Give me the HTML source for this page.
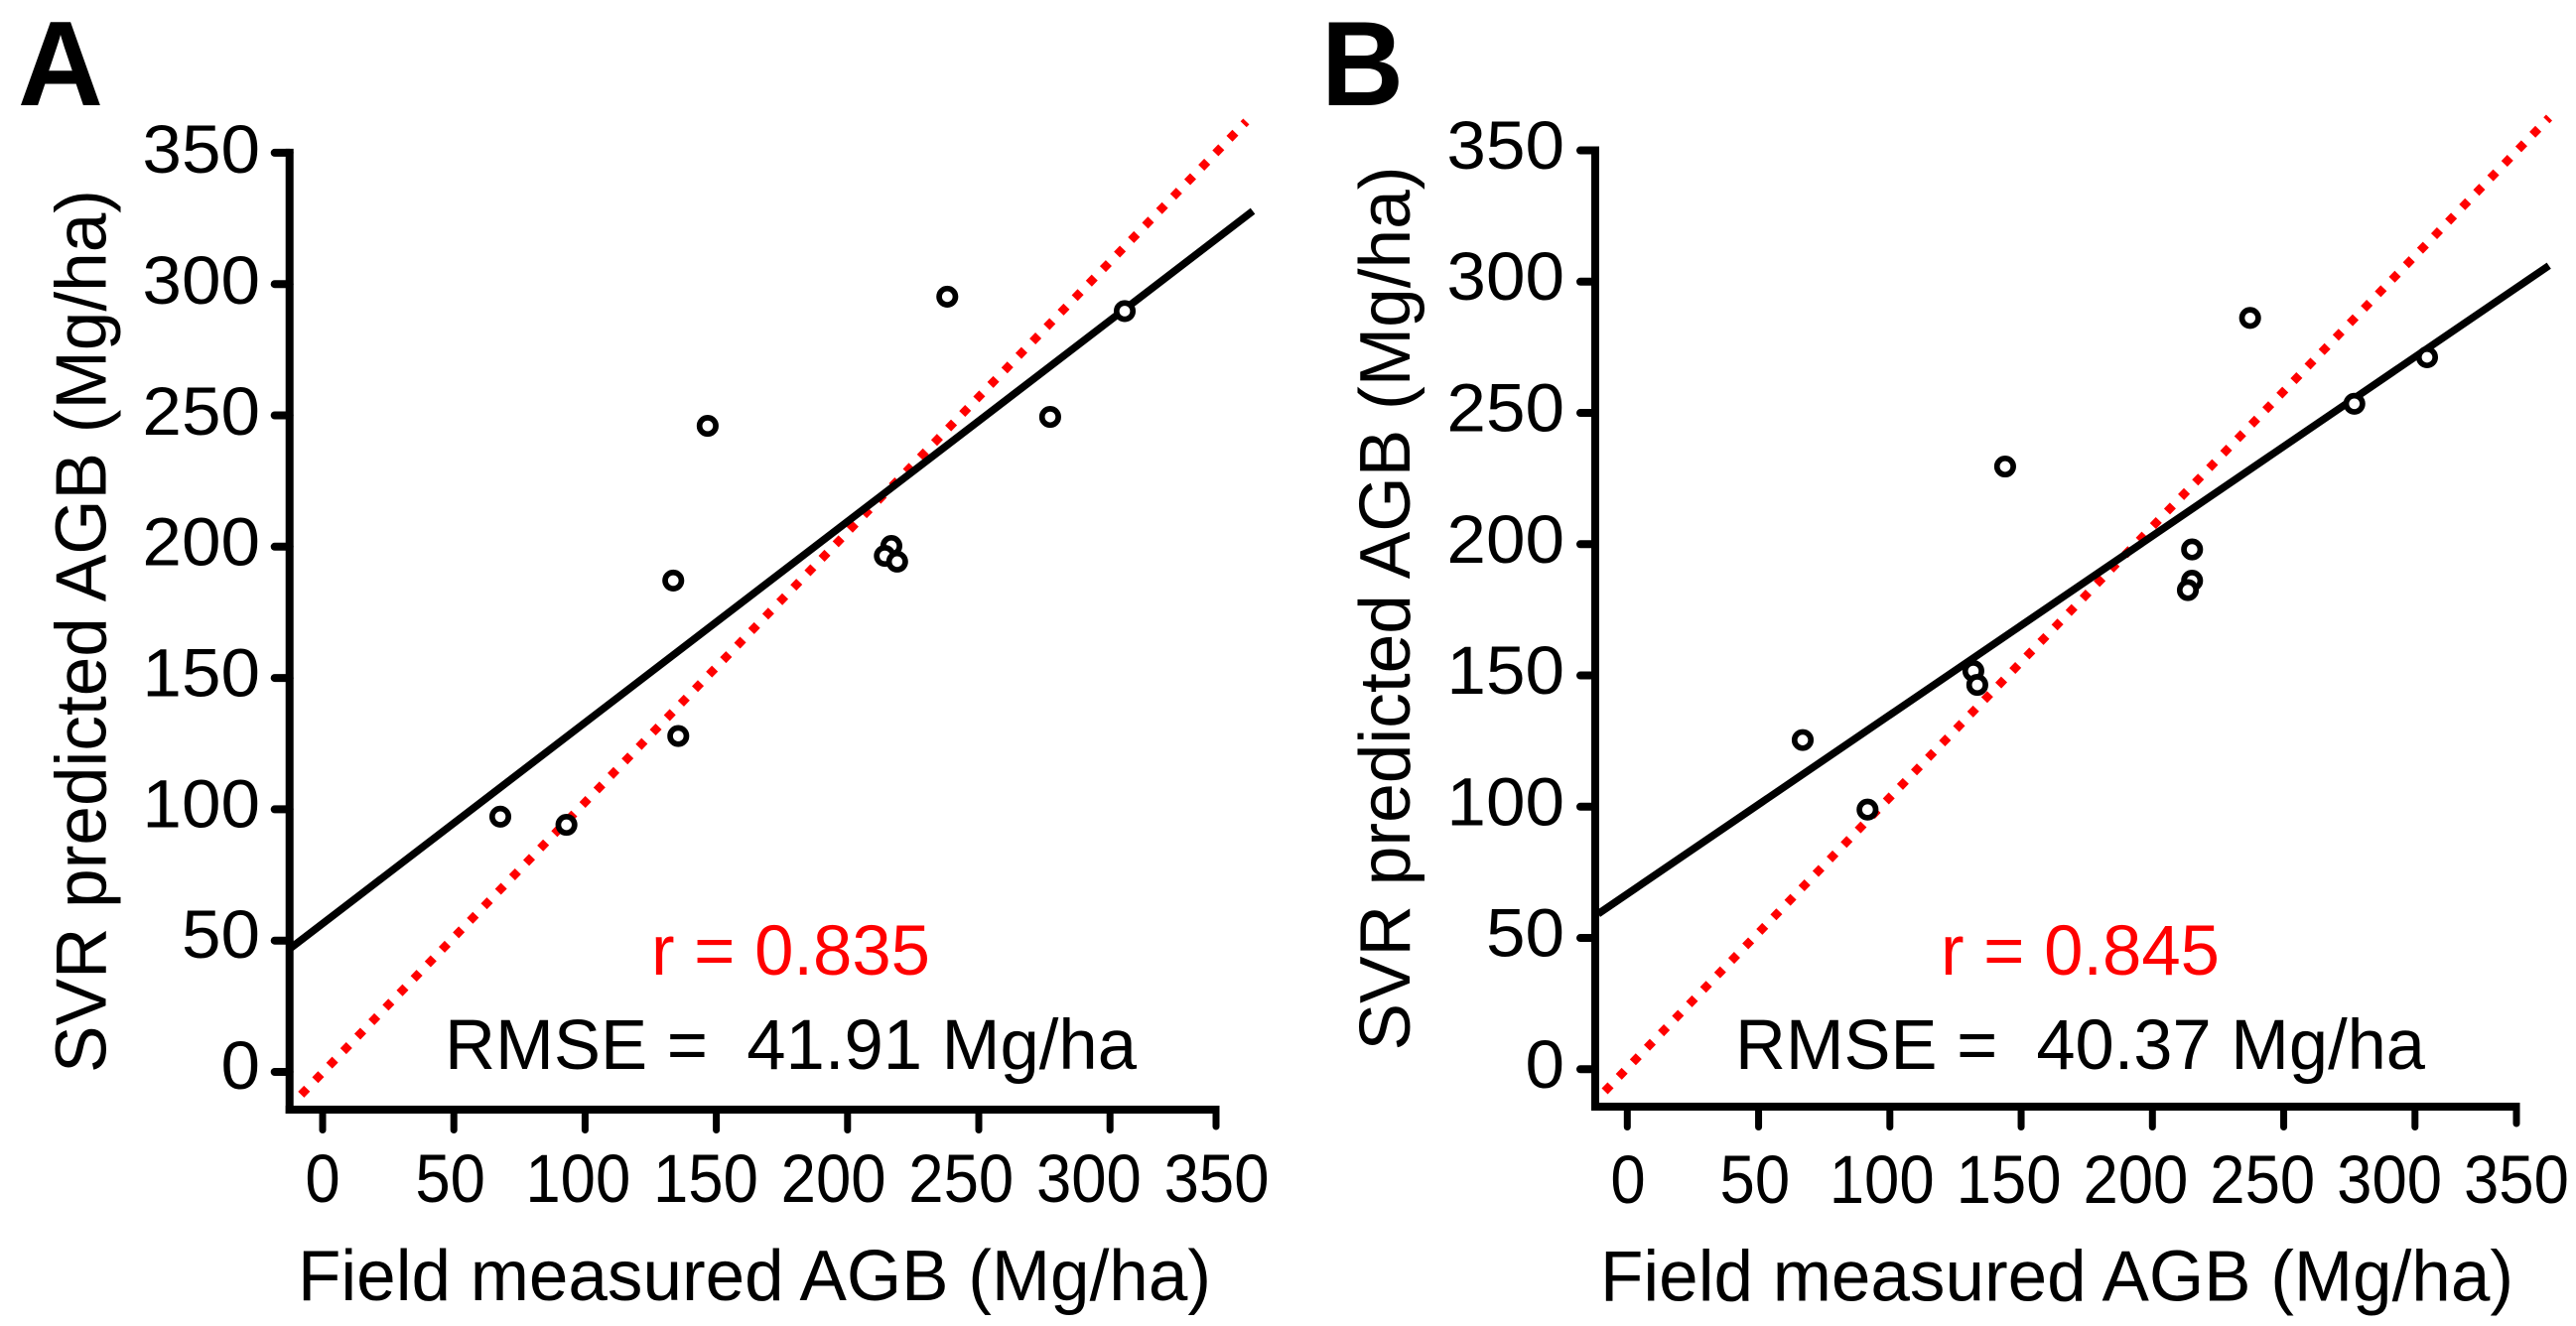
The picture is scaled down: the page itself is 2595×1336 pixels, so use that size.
<!DOCTYPE html>
<html lang="en">
<head>
<meta charset="utf-8">
<title>SVR predicted vs field measured AGB</title>
<style>
html,body{margin:0;padding:0;background:#fff;width:2595px;height:1336px;overflow:hidden}
svg{display:block}
text{font-family:"Liberation Sans",Arial,sans-serif;fill:#000;white-space:pre}
</style>
</head>
<body>
<svg id="figure" xmlns="http://www.w3.org/2000/svg" width="2595" height="1336" viewBox="0 0 2595 1336">
  <rect width="2595" height="1336" fill="#fff"/>

  <g id="panelA">
    <text x="18" y="106" font-size="122" font-weight="700" textLength="86" lengthAdjust="spacingAndGlyphs">A</text>
    <text transform="translate(106.5,1081) rotate(-90)" font-size="72" textLength="890" lengthAdjust="spacingAndGlyphs">SVR predicted AGB (Mg/ha)</text>
    <text x="300" y="1310" font-size="72" textLength="920" lengthAdjust="spacingAndGlyphs">Field measured AGB (Mg/ha)</text>
    <text x="656" y="982" font-size="71" style="fill:#ff0000" textLength="281" lengthAdjust="spacingAndGlyphs">r = 0.835</text>
    <text x="448" y="1077" font-size="71" textLength="697" lengthAdjust="spacingAndGlyphs">RMSE =  41.91 Mg/ha</text>
  </g>

  <g id="panelB">
    <text x="1331" y="106" font-size="122" font-weight="700" textLength="83" lengthAdjust="spacingAndGlyphs">B</text>
    <text transform="translate(1420,1058.5) rotate(-90)" font-size="72" textLength="891" lengthAdjust="spacingAndGlyphs">SVR predicted AGB (Mg/ha)</text>
    <text x="1612" y="1310.5" font-size="72" textLength="920" lengthAdjust="spacingAndGlyphs">Field measured AGB (Mg/ha)</text>
    <text x="1955" y="982" font-size="71" style="fill:#ff0000" textLength="281" lengthAdjust="spacingAndGlyphs">r = 0.845</text>
    <text x="1748" y="1077" font-size="71" textLength="695" lengthAdjust="spacingAndGlyphs">RMSE =  40.37 Mg/ha</text>
  </g>
</svg>

<script>
// Shared axis values
const xTicks = [0, 50, 100, 150, 200, 250, 300];
const yTicks = [0, 50, 100, 150, 200, 250, 300, 350];
const tickLabels = [0, 50, 100, 150, 200, 250, 300, 350];

// Panel A data
const aMeasured = [238.0, 305.6, 277.2, 146.7, 216.7, 214.2, 218.9, 133.6, 135.5, 67.7, 92.9];
const aPredicted = [295.2, 289.7, 249.4, 246.0, 200.3, 196.5, 194.3, 187.1, 127.9, 97.2, 94.1];
const aFitX = [-12.5, 354.4];
const aFitY = [46.9, 327.8];
const aRefX = [-8.2, 351.9];
const aRefY = [-8.65, 361.9];

// Panel B data
const bMeasured = [237.2, 304.6, 276.9, 143.9, 215.1, 215.1, 213.5, 131.8, 133.3, 66.8, 91.5];
const bPredicted = [286.2, 271.2, 253.5, 229.6, 198.0, 186.1, 182.5, 151.7, 146.4, 125.4, 98.9];
const bFitX = [-11.1, 351.0];
const bFitY = [59.2, 306.1];
const bRefX = [-8.6, 351.1];
const bRefY = [-8.4, 362.5];

const NS = 'http://www.w3.org/2000/svg';

function mk(parent, tag, attrs) {
  const el = document.createElementNS(NS, tag);
  for (const k in attrs) el.setAttribute(k, attrs[k]);
  parent.appendChild(el);
  return el;
}

function drawPanel(group, geo, measured, predicted, fitX, fitY, refX, refY) {
  const sx = v => geo.x0 + v * geo.xk;
  const sy = v => geo.y0 - v * geo.yk;
  const labelX = v => geo.lx0 + v * geo.lxk;
  const labelY = v => geo.ly0 - v * geo.lyk;

  yTicks.forEach(v => {
    const t = mk(group, 'line', {x1: geo.axisX - 15, x2: geo.axisX, y1: sy(v), y2: sy(v), stroke: '#000', 'stroke-width': 8, 'stroke-linecap': 'round'});
    
    
  });

  xTicks.forEach(v => {
    const t = mk(group, 'line', {x1: sx(v), x2: sx(v), y1: geo.axisY, y2: geo.axisY + 20.5, stroke: '#000', 'stroke-width': 7, 'stroke-linecap': 'round'});
    
    
  });

  const endTick = mk(group, 'line', {x1: geo.axisEnd, x2: geo.axisEnd, y1: geo.axisY, y2: geo.axisY + 17, stroke: '#000', 'stroke-width': 7, 'stroke-linecap': 'round'});
  
  

  const yAxis = mk(group, 'line', {x1: geo.axisX, x2: geo.axisX, y1: sy(350) - 4, y2: geo.axisY + 4, stroke: '#000', 'stroke-width': 8});
  
  

  const xAxis = mk(group, 'line', {x1: geo.axisX - 4, x2: geo.axisEnd + 3.5, y1: geo.axisY, y2: geo.axisY, stroke: '#000', 'stroke-width': 8});
  
  

  tickLabels.forEach(v => {
    const t = mk(group, 'text', {transform: 'translate(' + geo.yLabelRight + ',' + labelY(v) + ') scale(1.03,1)', 'font-size': 69, 'text-anchor': 'end'});
    t.textContent = String(v);
    
    
  });

  tickLabels.forEach(v => {
    const t = mk(group, 'text', {transform: 'translate(' + labelX(v) + ',' + geo.xLabelBase + ') scale(0.92,1)', 'font-size': 69, 'text-anchor': 'middle'});
    t.textContent = String(v);
    
    
  });

  const ref = mk(group, 'line', {x1: sx(refX[0]), y1: sy(refY[0]), x2: sx(refX[1]), y2: sy(refY[1]), stroke: '#ff0000', 'stroke-width': 8.5, 'stroke-dasharray': '8.5 11.84'});
  
  

  const fit = mk(group, 'line', {x1: sx(fitX[0]), y1: sy(fitY[0]), x2: sx(fitX[1]), y2: sy(fitY[1]), stroke: '#000', 'stroke-width': 7.5});
  
  

  measured.forEach((m, i) => {
    const c = mk(group, 'circle', {cx: sx(m), cy: sy(predicted[i]), r: 8.2, fill: '#fff', stroke: '#000', 'stroke-width': 5.7});
    
    
  });
}

drawPanel(document.getElementById('panelA'),
  {x0: 325, xk: 2.644, y0: 1080, yk: 2.646, lx0: 325, lxk: 2.573, ly0: 1097, lyk: 2.637, axisX: 291.7, axisY: 1118, axisEnd: 1225, yLabelRight: 262, xLabelBase: 1211},
  aMeasured, aPredicted, aFitX, aFitY, aRefX, aRefY);

drawPanel(document.getElementById('panelB'),
  {x0: 1639.3, xk: 2.645, y0: 1077.3, yk: 2.645, lx0: 1640, lxk: 2.557, ly0: 1096, lyk: 2.646, axisX: 1607, axisY: 1115, axisEnd: 2535, yLabelRight: 1576, xLabelBase: 1212},
  bMeasured, bPredicted, bFitX, bFitY, bRefX, bRefY);
</script>
</body>
</html>
